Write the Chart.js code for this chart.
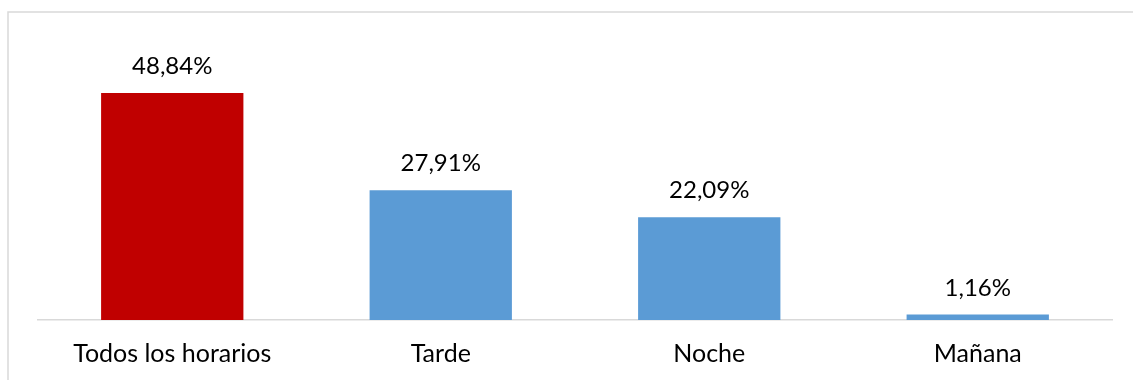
<!DOCTYPE html>
<html lang="es">
<head>
<meta charset="utf-8">
<title>Horarios</title>
<script src="https://cdn.jsdelivr.net/npm/chart.js@4/dist/chart.umd.min.js"></script>
<style>
  html, body { margin: 0; padding: 0; background: #fff; }
  #wrap { width: 1133px; height: 380px; }
</style>
</head>
<body>
<div id="wrap"><canvas id="graficaHorarios"></canvas></div>
<script>
// =================== Datos ===================

// Categorías del eje X.
const categorias = ["Todos los horarios", "Tarde", "Noche", "Mañana"];

// Porcentaje de cada horario.
const porcentajes = [48.84, 27.91, 22.09, 1.16];

// Color de cada barra (la primera resaltada en rojo).
const colores = ["#C00000", "#5B9BD5", "#5B9BD5", "#5B9BD5"];

const FUENTE = "Lato, 'Open Sans', sans-serif";

// Formato con coma decimal, como en español.
function formatoPct(v) {
  return v.toFixed(2).replace(".", ",") + "%";
}

// =================== Plugins ===================

// Marco gris claro alrededor del gráfico.
const marco = {
  id: "marco",
  beforeDraw(chart) {
    const ctx = chart.ctx;
    ctx.save();
    ctx.strokeStyle = "#d9d9d9";
    ctx.lineWidth = 1.5;
    ctx.strokeRect(8, 12, chart.width + 20, chart.height + 20);
    ctx.restore();
  }
};

// Etiqueta de valor encima de cada barra.
const etiquetas = {
  id: "etiquetas",
  afterDatasetsDraw(chart) {
    const ctx = chart.ctx;
    const meta = chart.getDatasetMeta(0);
    ctx.save();
    ctx.font = "24px " + FUENTE;
    ctx.fillStyle = "#000";
    ctx.textAlign = "center";
    ctx.textBaseline = "alphabetic";
    meta.data.forEach((barra, i) => {
      const v = chart.data.datasets[0].data[i];
      ctx.fillText(formatoPct(v), barra.x, barra.y - 19);
    });
    ctx.restore();
  }
};

// =================== Gráfica ===================

const ctx = document.getElementById("graficaHorarios").getContext("2d");

new Chart(ctx, {
  type: "bar",
  data: {
    labels: categorias,
    datasets: [{
      data: porcentajes,
      backgroundColor: colores,
      borderWidth: 0,
      barPercentage: 0.53,
      categoryPercentage: 1
    }]
  },
  options: {
    responsive: true,
    maintainAspectRatio: false,
    animation: false,
    layout: {
      padding: { left: 38, right: 21, top: 41, bottom: 11 }
    },
    plugins: {
      legend: { display: false },
      tooltip: { enabled: false }
    },
    scales: {
      x: {
        grid: { display: false, drawTicks: false },
        border: { display: true, color: "#d9d9d9", width: 1.5 },
        ticks: {
          color: "#000",
          padding: 19,
          font: { family: FUENTE, size: 25 }
        },
        // altura fija del eje para que la línea base quede abajo
        afterFit(scale) { scale.height = 49; }
      },
      y: {
        display: false,
        min: 0,
        max: 60
      }
    }
  },
  plugins: [marco, etiquetas]
});
</script>
</body>
</html>
